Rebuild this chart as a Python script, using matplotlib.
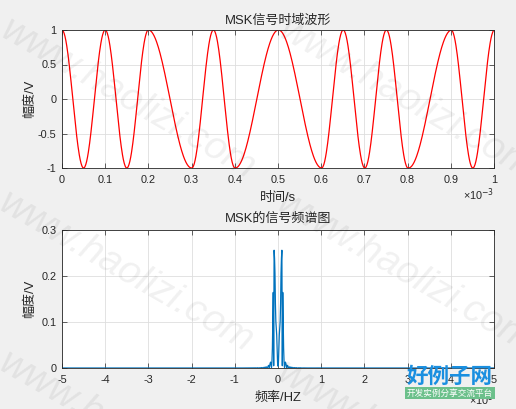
import numpy as np
import matplotlib
matplotlib.use("Agg")
import matplotlib.pyplot as plt

plt.rcParams['font.family'] = ['Liberation Sans', 'Noto Sans CJK SC', 'DejaVu Sans']
plt.rcParams['axes.unicode_minus'] = False

# ---- data ----
bits = [1, 1, 0, 1, 0, 0, 1, 1, 0, 1]          # 1 -> 10 kHz, 0 -> 5 kHz
bit_period = 1e-4                               # s
freqs_hz = {1: 10e3, 0: 5e3}
fs = 1e6                                        # sample rate, Hz
time_ticks = [0, 0.1, 0.2, 0.3, 0.4, 0.5, 0.6, 0.7, 0.8, 0.9, 1.0]
amp_ticks = [-1, -0.5, 0, 0.5, 1]
amp_tick_labels = ['-1', '-0.5', '0', '0.5', '1']
freq_ticks = [-5, -4, -3, -2, -1, 0, 1, 2, 3, 4, 5]
spec_ticks = [0, 0.1, 0.2, 0.3]
spec_tick_labels = ['0', '0.1', '0.2', '0.3']

# ---- signal (continuous-phase FSK / MSK) ----
N = int(round(len(bits) * bit_period * fs))
t = np.arange(N + 1) / fs
inst_f = np.array([freqs_hz[bits[min(int(tt / bit_period), len(bits) - 1)]] for tt in t])
phase = np.concatenate([[0], np.cumsum(2 * np.pi * inst_f[:-1] / fs)])
s = np.cos(phase)

S = np.abs(np.fft.fftshift(np.fft.fft(s[:N]))) / N
f = (np.arange(N) - N / 2) * fs / N

fig = plt.figure(figsize=(5.16, 4.09), dpi=100, facecolor='#f0f0f0')
W, H = 516, 409
AH = 138.0
ax1 = fig.add_axes([62 / W, 1 - 168 / H, 432 / W, AH / H])
ax2 = fig.add_axes([62 / W, 1 - 368 / H, 432 / W, AH / H])

fs_tick = 7.8
fs_title = 9.4
tc = '#262626'

for ax in (ax1, ax2):
    ax.set_facecolor('white')
    ax.grid(True, color='#dedede', linewidth=0.6)
    ax.set_axisbelow(True)
    ax.tick_params(direction='in', length=3.5, width=0.5, labelsize=fs_tick,
                   top=True, right=True, colors=tc)
    ax.tick_params(axis='x', pad=5.0)
    ax.tick_params(axis='y', pad=4.0)
    for sp in ax.spines.values():
        sp.set_linewidth(0.6)
        sp.set_color(tc)

def labels(ax, title, xl, yl, mult, title_off, mult_off):
    ax.text(0.5, 1 + title_off / AH, title, transform=ax.transAxes, ha='center', va='center',
            fontsize=fs_title, color=tc)
    ax.set_xlabel(xl, fontsize=fs_title, color=tc)
    ax.xaxis.set_label_coords(0.5, -30 / AH)
    ax.xaxis.label.set_va('center')
    ax.set_ylabel(yl, fontsize=fs_title, color=tc)
    ax.yaxis.set_label_coords(-32 / 432, 0.5)
    ax.yaxis.label.set_va('center')
    ax.text(1.0, -mult_off / AH, mult, transform=ax.transAxes, ha='right', va='center',
            fontsize=fs_tick, color=tc)

ax1.plot(t, s, color='red', linewidth=0.9)
ax1.set_xlim(0, 1e-3)
ax1.set_ylim(-1, 1)
ax1.set_xticks([v * 1e-3 for v in time_ticks])
ax1.set_xticklabels([('%g' % v) for v in time_ticks])
ax1.set_yticks(amp_ticks)
ax1.set_yticklabels(amp_tick_labels)
labels(ax1, 'MSK信号时域波形', '时间/s', '幅度/V', '×10$^{-3}$', 9.5, 27)

ax2.plot(f / 1e5, S, color='#0072bd', linewidth=0.9)
ax2.set_xlim(-5, 5)
ax2.set_ylim(0, 0.3)
ax2.set_xticks(freq_ticks)
ax2.set_xticklabels([str(v) for v in freq_ticks])
ax2.set_yticks(spec_ticks)
ax2.set_yticklabels(spec_tick_labels)
labels(ax2, 'MSK的信号频谱图', '频率/HZ', '幅度/V', '×10$^{5}$', 11, 32)

# watermark
wm_pos = [(12, 12), (290, 12), (10, 185), (288, 185), (10, 345), (288, 355)]
for (x, y) in wm_pos:
    fig.text(x / W, 1 - y / H, 'www.haolizi.com', fontsize=28, color='#000000', alpha=0.06,
             rotation=-30, ha='left', va='top', rotation_mode='anchor', style='italic')
fig.text(450 / W, 1 - 387 / H, '好例子网', fontsize=15.5, color='#1a8fe0', ha='center', va='bottom',
         fontweight='bold', family=['Noto Sans CJK SC'], zorder=10)
fig.text(450 / W, 1 - 393 / H, '开发实例分享交流平台', fontsize=6.2, color='white', ha='center', va='center',
         family=['Noto Sans CJK SC'], zorder=10,
         bbox=dict(boxstyle='square,pad=0.2', facecolor='#6cc08b', edgecolor='none'))

fig.savefig('out.png', dpi=100, facecolor=fig.get_facecolor())
